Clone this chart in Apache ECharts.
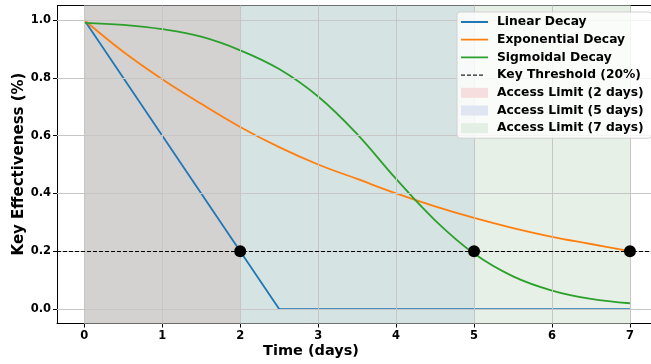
<!DOCTYPE html>
<html>
<head>
<meta charset="utf-8">
<script src="https://cdn.jsdelivr.net/npm/echarts@6/dist/echarts.min.js"></script>
<style>
  html, body { margin: 0; padding: 0; background: #fff; }
  #chart { width: 651px; height: 364px; }
</style>
</head>
<body>
<div id="chart"></div>
<script>
// values
const days = [0, 0.5, 1, 1.5, 2, 2.5, 3, 3.5, 4, 4.5, 5, 5.5, 6, 6.5, 7]
const expDecay = [1.0, 0.89, 0.795, 0.71, 0.63, 0.56, 0.50, 0.45, 0.40, 0.355, 0.315, 0.28, 0.25, 0.225, 0.20]
const sigDecay = [0.99, 0.983, 0.968, 0.942, 0.895, 0.83, 0.735, 0.605, 0.45, 0.307, 0.192, 0.113, 0.064, 0.035, 0.02]
const linearDays = [0, 2, 2.5, 7]
const linearDecay = [1.0, 0.2, 0.0, 0.0]
const threshold = 0.2
const accessLimits = [2, 5, 7]
const xTicks = [0, 1, 2, 3, 4, 5, 6, 7]
const yTicks = [0, 0.2, 0.4, 0.6, 0.8, 1.0]

const FONT = 'DejaVu Sans'
const GRID = '#c6c6c6'
const zip = (xs, ys) => xs.map((x, i) => [x, ys[i]])

const chart = echarts.init(document.getElementById('chart'))

const limitNames = ['Access Limit (2 days)', 'Access Limit (5 days)', 'Access Limit (7 days)']
const limitSwatch = ['#f7dede', '#dfe6f1', '#e3efe3']
// colour of each band where the spans overlap
const bandFill = ['#d4d2d1', '#d5e3e2', '#e7f0e7']

// legend icons: a line in the middle of a 27x10 box (corner dots keep the box size)
const box = 'M0,0h0.01v0.01h-0.01z M27,10h-0.01v-0.01h0.01z '
const lineIcon = 'path://' + box + 'M0,4.1h27v1.8h-27z'
const dashIcon = 'path://' + box + 'M0,4.4h4v1.2h-4z M6,4.4h4v1.2h-4z M12,4.4h4v1.2h-4z M18,4.4h4v1.2h-4z'

const limitSeries = accessLimits.map((d, i) => ({
    name: limitNames[i],
    type: 'line',
    data: [],
    z: 1,
    itemStyle: { color: limitSwatch[i] },
    markArea: {
        silent: true,
        itemStyle: { color: bandFill[i] },
        data: [[{ xAxis: i === 0 ? 0 : accessLimits[i - 1] }, { xAxis: d }]]
    }
}))

chart.setOption({
    animation: false,
    grid: { left: 57, top: 5.5, width: 594, height: 318, show: false },
    xAxis: {
        type: 'value',
        min: -0.35,
        max: 7.27,
        axisLine: { show: true, onZero: false, lineStyle: { color: '#000', width: 1 } },
        axisTick: { show: true, customValues: xTicks, length: 4, lineStyle: { color: '#000' } },
        axisLabel: {
            customValues: xTicks,
            color: '#000', fontFamily: FONT, fontWeight: 'bold', fontSize: 11.5, margin: 7
        },
        splitLine: { show: false }
    },
    yAxis: {
        type: 'value',
        min: -0.05,
        max: 1.05,
        axisLine: { show: true, onZero: false, lineStyle: { color: '#000', width: 1 } },
        axisTick: { show: true, customValues: yTicks, length: 4, lineStyle: { color: '#000' } },
        axisLabel: {
            customValues: yTicks,
            formatter: v => v.toFixed(1),
            color: '#000', fontFamily: FONT, fontWeight: 'bold', fontSize: 11.5, margin: 6
        },
        splitLine: { show: false }
    },
    graphic: [
        { type: 'line', shape: { x1: 57, y1: 5.5, x2: 651, y2: 5.5 }, style: { stroke: '#000', lineWidth: 1 } },
        {
            type: 'text', x: 311, y: 351,
            style: {
                text: 'Time (days)', font: 'bold 14.5px "DejaVu Sans"', fill: '#000',
                align: 'center', verticalAlign: 'middle'
            }
        },
        {
            type: 'text', x: 19, y: 164, rotation: Math.PI / 2,
            style: {
                text: 'Key Effectiveness (%)', font: 'bold 15px "DejaVu Sans"', fill: '#000',
                align: 'center', verticalAlign: 'middle'
            }
        }
    ],
    legend: {
        orient: 'vertical',
        z: 20,
        left: 457,
        top: 12,
        padding: [4, 8, 4, 4],
        itemWidth: 27,
        itemHeight: 10,
        itemGap: 5.7,
        backgroundColor: 'rgba(255,255,255,0.8)',
        borderColor: '#d0d0d0',
        borderWidth: 1,
        borderRadius: 3,
        textStyle: {
            color: '#000', fontFamily: FONT, fontWeight: 'bold', fontSize: 12.3,
            lineHeight: 12, padding: [0, 0, 0, 4]
        },
        data: [
            { name: 'Linear Decay', icon: lineIcon },
            { name: 'Exponential Decay', icon: lineIcon },
            { name: 'Sigmoidal Decay', icon: lineIcon },
            { name: 'Key Threshold (20%)', icon: dashIcon },
            ...limitNames.map(n => ({ name: n, icon: 'rect' }))
        ]
    },
    series: [
        ...limitSeries,
        {
            // grid lines, drawn over the shaded spans
            name: 'grid', type: 'line', data: [], z: 1,
            markLine: {
                silent: true, symbol: 'none', label: { show: false },
                lineStyle: { color: GRID, width: 1, type: 'solid' },
                data: [
                    ...xTicks.map(v => ({ xAxis: v })),
                    ...yTicks.map(v => ({ yAxis: v }))
                ]
            }
        },
        {
            name: 'Linear Decay', type: 'line', data: zip(linearDays, linearDecay),
            symbol: 'none', lineStyle: { color: '#1f77b4', width: 1.8 }, itemStyle: { color: '#1f77b4' }
        },
        {
            name: 'Exponential Decay', type: 'line', data: zip(days, expDecay), smooth: 0.4,
            symbol: 'none', lineStyle: { color: '#ff7f0e', width: 1.8 }, itemStyle: { color: '#ff7f0e' }
        },
        {
            name: 'Sigmoidal Decay', type: 'line', data: zip(days, sigDecay), smooth: 0.4,
            symbol: 'none', lineStyle: { color: '#2ca02c', width: 1.8 }, itemStyle: { color: '#2ca02c' }
        },
        {
            name: 'Key Threshold (20%)', type: 'line', data: [],
            symbol: 'none',
            itemStyle: { color: '#222' },
            markLine: {
                silent: true, symbol: 'none', label: { show: false },
                lineStyle: { color: '#000', width: 1.2, type: [4, 2] },
                data: [{ yAxis: threshold }]
            }
        },
        {
            name: 'crossings', type: 'scatter', z: 5,
            data: accessLimits.map(d => [d, threshold]),
            symbolSize: 12, itemStyle: { color: '#000', opacity: 1 }
        }
    ]
})
</script>
</body>
</html>
